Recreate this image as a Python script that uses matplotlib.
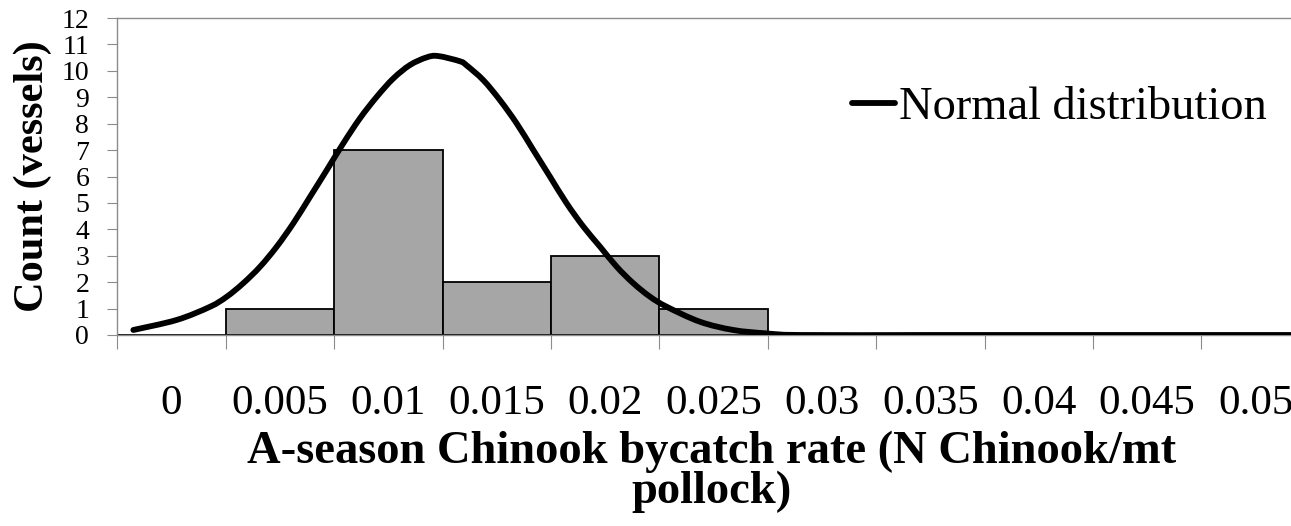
import matplotlib
matplotlib.use("Agg")
import matplotlib.pyplot as plt
from matplotlib.path import Path
from matplotlib.patches import PathPatch
from matplotlib.lines import Line2D
import numpy as np

# ---- data ----
bin_labels = ["0", "0.005", "0.01", "0.015", "0.02", "0.025", "0.03",
              "0.035", "0.04", "0.045", "0.05"]
counts = [0, 1, 7, 2, 3, 1, 0, 0, 0, 0, 0]
bin_width = 0.005

# normal curve (rate, count)
curve_rate = [-0.00176, 0.00024, 0.00178, 0.00255, 0.00331, 0.00408, 0.00485,
              0.00562, 0.00639, 0.00716, 0.00792, 0.00869, 0.00947, 0.01023,
              0.01100, 0.01177, 0.01230, 0.01331, 0.01362, 0.01438, 0.01515,
              0.01592, 0.01669, 0.01746, 0.01823, 0.01900, 0.01977, 0.02054,
              0.02130, 0.02207, 0.02284, 0.02438, 0.02591, 0.02745, 0.02900,
              0.03500, 0.04000, 0.04500, 0.05000, 0.05600]
curve_count = [0.19, 0.57, 1.07, 1.45, 1.96, 2.58, 3.34,
               4.23, 5.23, 6.24, 7.25, 8.20, 9.02, 9.71,
               10.22, 10.51, 10.56, 10.36, 10.20, 9.65, 8.89,
               8.01, 7.00, 5.99, 4.98, 4.10, 3.34, 2.58,
               1.96, 1.45, 1.07, 0.50, 0.19, 0.06, 0.0,
               0.0, 0.0, 0.0, 0.0, 0.0]
y_ticks = list(range(0, 13))

# ---- figure ----
W, H = 1291, 526
DPI = 100
plt.rcParams['font.family'] = ['Liberation Serif', 'DejaVu Serif']
fig = plt.figure(figsize=(W / DPI, H / DPI), dpi=DPI)

left_px, right_px, bottom_px, top_px = 117.3, 1309.7, 335.0, 18.0
ax = fig.add_axes([left_px / W, 1 - bottom_px / H,
                   (right_px - left_px) / W, (bottom_px - top_px) / H])

idx = np.arange(len(bin_labels))
ax.bar(idx, counts, width=1.0, color="#A6A6A6", edgecolor="black",
       linewidth=1.3, zorder=2)


def smooth_path(xs, ys, tension=1.0 / 6.0):
    """Excel-like smoothed line: Catmull-Rom converted to cubic Bezier."""
    pts = np.column_stack([xs, ys])
    n = len(pts)
    verts = [pts[0]]
    codes = [Path.MOVETO]
    for i in range(n - 1):
        p0 = pts[i - 1] if i > 0 else pts[i]
        p1 = pts[i]
        p2 = pts[i + 1]
        p3 = pts[i + 2] if i + 2 < n else pts[i + 1]
        c1 = p1 + (p2 - p0) * tension
        c2 = p2 - (p3 - p1) * tension
        verts += [c1, c2, p2]
        codes += [Path.CURVE4] * 3
    return Path(verts, codes)


cx = np.array(curve_rate) / bin_width
curve = PathPatch(smooth_path(cx, np.array(curve_count)), facecolor="none",
                  edgecolor="black", linewidth=4.2, capstyle="round",
                  joinstyle="round", zorder=3)
ax.add_patch(curve)

ax.set_xlim(-0.5, len(bin_labels) - 0.5)
ax.set_ylim(0, 12)

grey = "#8C8C8C"
for s in ["left", "bottom", "top"]:
    ax.spines[s].set_color(grey)
    ax.spines[s].set_linewidth(1.0)
ax.spines["right"].set_visible(False)

ax.set_yticks(y_ticks)
ax.set_yticklabels([str(v) for v in y_ticks])
ax.tick_params(axis="y", direction="out", length=7.2, width=0.8, color=grey,
               labelsize=20, pad=13)

# category boundary ticks (major) and centred labels (minor)
ax.set_xticks(np.arange(-0.5, len(bin_labels) - 0.5, 1.0))
ax.set_xticklabels([])
ax.set_xticks(idx, minor=True)
ax.set_xticklabels(bin_labels, minor=True)
ax.tick_params(axis="x", which="major", direction="out", length=10,
               width=0.8, color=grey)
ax.tick_params(axis="x", which="minor", length=0, labelsize=31, pad=36)

# y label
ax.set_ylabel("Count (vessels)", fontsize=30.5, fontweight="bold")
ax.yaxis.set_label_coords(-(left_px - 52) / (right_px - left_px), 0.5)

# x label (two wrapped lines)
fig.text(712 / W, 1 - 463 / H, "A-season Chinook bycatch rate (N Chinook/mt",
         ha="center", va="baseline", fontsize=33.5, fontweight="bold")
fig.text(712 / W, 1 - 503 / H, "pollock)",
         ha="center", va="baseline", fontsize=33.5, fontweight="bold")

# legend
handle = Line2D([], [], color="black", linewidth=4.2, solid_capstyle="round")
leg = ax.legend([handle], ["Normal distribution"], loc="center left",
                bbox_to_anchor=(852 / W, 1 - 108 / H),
                bbox_transform=fig.transFigure, frameon=False,
                fontsize=33.5, handlelength=0.92, handletextpad=0.1,
                borderpad=0, borderaxespad=0)

fig.savefig("out.png", dpi=DPI)
